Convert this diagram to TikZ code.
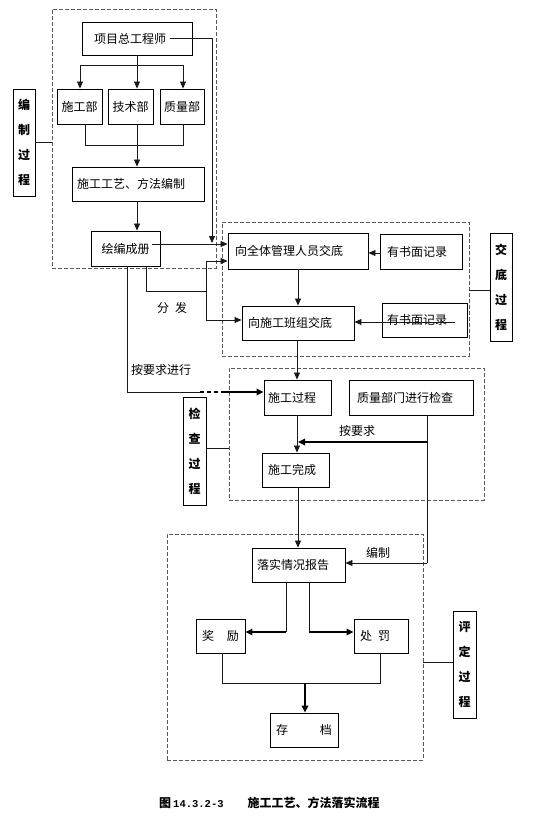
\documentclass[tikz,border=0pt]{standalone}
\usepackage{fontspec}
\setmainfont{Noto Sans CJK SC}
\newfontfamily\capmono{Liberation Mono}
\usetikzlibrary{arrows.meta,calc}
\tikzset{
  box/.style={draw, line width=0.9pt, inner sep=0pt, font=\fontsize{12}{14}\selectfont},
  lab/.style={draw, line width=0.9pt, inner sep=0pt, minimum width=22pt, minimum height=107pt,
              align=center, font=\bfseries\fontsize{12}{25}\selectfont},
  grp/.style={draw=black!65, dash pattern=on 4pt off 2pt, line width=0.8pt, inner sep=0pt},
  con/.style={line width=0.8pt, black!90},
  arr/.style={con, -{Triangle[length=7pt,width=6pt]}},
  tarr/.style={line width=1.6pt, black, -{Triangle[length=7pt,width=6.5pt]}},
  txt/.style={inner sep=0pt, font=\fontsize{12}{14}\selectfont}
}
\begin{document}
\begin{tikzpicture}[x=1pt,y=-1pt]
\useasboundingbox[fill=white] (0,0) rectangle (555,830);

% dashed groups
\node[grp, minimum width=164pt, minimum height=259pt] (g1) at (134,138.5) {};
\node[grp, minimum width=247pt, minimum height=134pt] (g2) at (345.5,289) {};
\node[grp, minimum width=255pt, minimum height=132pt] (g3) at (356.5,434) {};
\node[grp, minimum width=256pt, minimum height=226pt] (g4) at (295,647) {};

% side labels
\node[lab] (L1) at (24,142.5) {编\\制\\过\\程};
\node[lab, minimum height=108pt] (L2) at (501,287) {交\\底\\过\\程};
\node[lab, minimum width=23pt, minimum height=108pt] (L3) at (194.5,451) {检\\查\\过\\程};
\node[lab, minimum width=23pt] (L4) at (464.5,664.5) {评\\定\\过\\程};
\draw[con] (L1.east) -- (L1.east -| g1.west);
\draw[con] (L2.west) ++(0,3) coordinate (l2c) -- (l2c -| g2.east);
\draw[con] (L3.east) ++(0,-3) coordinate (l3c) -- (l3c -| g3.west);
\draw[con] (L4.west) ++(0,-2.5) coordinate (l4c) -- (l4c -| g4.east);

% boxes
\node[box, minimum height=33pt, text width=86pt, inner xsep=12pt, align=left] (pm) at (137,38.5) {项目总工程师};
\node[box, minimum width=45pt, minimum height=35pt] (sg) at (79.5,106.5) {施工部};
\node[box, minimum width=45pt, minimum height=35pt] (js) at (130.5,106.5) {技术部};
\node[box, minimum width=44pt, minimum height=35pt] (zl) at (182,106.5) {质量部};
\node[box, minimum height=34pt, text width=122pt, inner xsep=5pt, align=left] (gy) at (138,184) {施工工艺、方法编制};
\node[box, minimum width=69pt, minimum height=35pt] (hb) at (125.5,248.5) {绘编成册};
\node[box, minimum height=36pt, text width=126pt, inner xsep=7pt, align=left] (qt) at (298,251) {向全体管理人员交底};
\node[box, minimum height=35pt, text width=68pt, inner xsep=7pt, align=left] (r1) at (421,251.5) {有书面记录};
\node[box, minimum height=34pt, text width=100pt, inner xsep=6pt, align=left] (bz) at (298,323) {向施工班组交底};
\node[box, minimum height=34pt, text width=75pt, inner xsep=5pt, align=left] (r2) at (424.5,320) {有书面记录};
\node[box, minimum height=35pt, text width=59pt, inner xsep=4pt, align=left] (sc) at (297.5,397.5) {施工过程};
\node[box, minimum height=35pt, text width=108pt, inner xsep=8pt, align=left] (zj) at (411,397.5) {质量部门进行检查};
\node[box, minimum height=34pt, text width=55pt, inner xsep=6pt, align=left] (wc) at (295.5,470) {施工完成};
\node[box, minimum height=34pt, text width=83pt, inner xsep=5pt, align=left] (bg) at (298.5,565) {落实情况报告};
\node[box, minimum width=49pt, minimum height=34pt] (jl) at (220.5,636) {奖\hspace{13pt}励};
\node[box, minimum height=34pt, text width=42pt, inner xsep=6pt, align=left] (cf) at (381,636) {处\hspace{6pt}罚};
\node[box, minimum width=68pt, minimum height=34pt] (cd) at (304,730) {存\hspace{32pt}档};

% free texts
\node[txt] (tfa) at (172,308) {分\hspace{6pt}发};
\node[txt] (tjx) at (161,370) {按要求进行};
\node[txt] (tyq) at (357,431) {按要求};
\node[txt] (tbz) at (378,553) {编制};
\node[inner sep=0pt, anchor=west] (cap) at (159,803) {\bfseries\fontsize{12}{14}\selectfont 图\hspace{2pt}{\capmono\fontsize{10.5}{12}\selectfont 14.3.2-3}\hspace{24pt}施工工艺、方法落实流程};

% top branch
\coordinate (b0) at (137,65);
\coordinate (b1) at (80,65);
\coordinate (b3) at (183,65);
\draw[con] (pm.south) -- (b0);
\draw[con] (b1) -- (b3);
\draw[arr] (b1) -- (b1 |- sg.north);
\draw[arr] (b0) -- (b0 |- js.north);
\draw[arr] (b3) -- (b3 |- zl.north);
% merge
\coordinate (m1) at (85,145);
\coordinate (m3) at (183,145);
\draw[con] (sg.south -| m1) -- (m1) -- (m3) -- (zl.south -| m3);
\coordinate (m2) at (137,124);
\draw[arr] (m2) -- (m2 |- gy.north);
\coordinate (m4) at (137,201);
\draw[arr] (m4) -- (m4 |- hb.north);

% pm right line
\coordinate (p1) at (170,38);
\coordinate (p2) at (212,38);
\coordinate (p3) at (212,243);
\draw[arr] (p1) -- (p2) -- (p3);

% hb to qt
\coordinate (h1) at (152,244);
\draw[arr] (h1) -- (h1 -| qt.west);
% fen fa
\coordinate (f0) at (146,266);
\coordinate (f1) at (146,291);
\coordinate (f2) at (206,291);
\coordinate (f3) at (206,261);
\coordinate (f4) at (206,320);
\draw[con] (f0) -- (f1) -- (f2);
\draw[con] (f3) -- (f4);
\draw[arr] (f3) -- (f3 -| qt.west);
\draw[arr] (f4) -- (f4 -| bz.west);
% an yaoqiu jinxing
\coordinate (k0) at (127,266);
\coordinate (k1) at (127,392);
\coordinate (k2) at (200,392);
\coordinate (k3) at (222,392);
\draw[con] (k0) -- (k1) -- (k2);
\draw[line width=1.6pt, dash pattern=on 4pt off 3pt] (k2) -- (k3);
\draw[tarr] (k3) -- (k3 -| sc.west);

% jiaodi
\draw[arr] (qt.south) -- (bz.north);
\draw[arr] (r1.west) ++(0,1.5) coordinate (r1a) -- (r1a -| qt.east);
\coordinate (r2a) at (455,322);
\draw[arr] (r2a) -- (r2a -| bz.east);
\coordinate (s0) at (297,340);
\draw[arr] (s0) -- (s0 |- sc.north);
\coordinate (s1) at (297,415);
\draw[arr] (s1) -- (s1 |- wc.north);

% quality check
\coordinate (q0) at (427,415);
\coordinate (q1) at (427,442);
\coordinate (q2) at (427,563);
\coordinate (q3) at (298,442);
\draw[con] (q0) -- (q2);
\draw[tarr] (q1) -- (q3);
\draw[arr] (q2) -- (q2 -| bg.east);
\coordinate (w0) at (298,487);
\draw[arr] (w0) -- (w0 |- bg.north);

% reward / punishment
\coordinate (j0) at (286,582);
\coordinate (j1) at (286,632);
\coordinate (c0) at (309,582);
\coordinate (c1) at (309,632);
\draw[con] (j0) -- (j1);
\draw[con] (c0) -- (c1);
\draw[tarr] (j1) -- (j1 -| jl.east);
\draw[tarr] (c1) -- (c1 -| cf.west);
\coordinate (e0) at (222,683);
\coordinate (e1) at (380,683);
\coordinate (e2) at (305,683);
\draw[con] (jl.south -| e0) -- (e0) -- (e1) -- (cf.south -| e1);
\draw[tarr] (e2) -- (e2 |- cd.north);
\end{tikzpicture}
\end{document}
